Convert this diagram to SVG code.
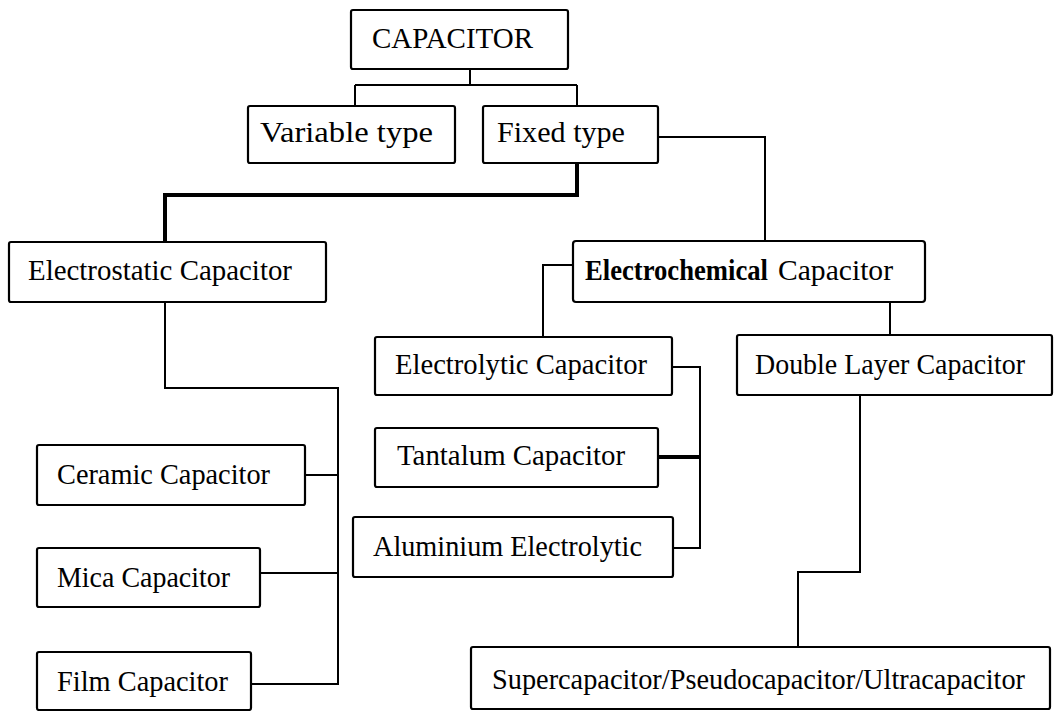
<svg xmlns="http://www.w3.org/2000/svg" width="1055" height="711" viewBox="0 0 1055 711">
<style>
.box{fill:#fff;stroke:#000;stroke-width:2.2}
.t{font-family:"Liberation Serif","Times New Roman",serif;font-size:29px;fill:#000}
.b{font-weight:bold}
.c{fill:none;stroke:#000;stroke-width:2}
.k{fill:none;stroke:#000;stroke-width:4}
</style>
<rect width="1055" height="711" fill="#fff"/>
<g id="connectors">
<path class="c" d="M470,69V85M355,85H577M355,85V106M577,85V106"/>
<path class="k" d="M577,163V195H165V242"/>
<path class="c" d="M658,137H765V241"/>
<path class="c" d="M573,265H543V337"/>
<path class="c" d="M890,302V335"/>
<path class="c" d="M672,367H700V548H673"/>
<path class="k" d="M658,457H700"/>
<path class="c" d="M860,395V572H798V647"/>
<path class="c" d="M165,302V388H338V684H251M305,475H338M260,573H338"/>
</g>
<g id="capacitor"><rect class="box" x="351" y="10" width="217" height="59" rx="2"/><text class="t" x="372" y="48" textLength="161" lengthAdjust="spacingAndGlyphs">CAPACITOR</text></g>
<g id="variable"><rect class="box" x="248" y="106" width="207" height="57" rx="2"/><text class="t" x="260" y="142" textLength="173" lengthAdjust="spacingAndGlyphs">Variable type</text></g>
<g id="fixed"><rect class="box" x="483" y="106" width="175" height="57" rx="2"/><text class="t" x="497" y="142" textLength="128" lengthAdjust="spacingAndGlyphs">Fixed type</text></g>
<g id="electrostatic"><rect class="box" x="9" y="242" width="317" height="60" rx="2"/><text class="t" x="28" y="280" textLength="264" lengthAdjust="spacingAndGlyphs">Electrostatic Capacitor</text></g>
<g id="electrochemical"><rect class="box" x="573" y="241" width="352" height="61" rx="3"/><text class="t b" x="585" y="280" textLength="183" lengthAdjust="spacingAndGlyphs">Electrochemical</text><text class="t" x="778" y="280" textLength="115" lengthAdjust="spacingAndGlyphs">Capacitor</text></g>
<g id="electrolytic"><rect class="box" x="375" y="337" width="297" height="58" rx="2"/><text class="t" x="395" y="374" textLength="252" lengthAdjust="spacingAndGlyphs">Electrolytic Capacitor</text></g>
<g id="doublelayer"><rect class="box" x="737" y="335" width="315" height="60" rx="2"/><text class="t" x="755" y="374" textLength="270" lengthAdjust="spacingAndGlyphs">Double Layer Capacitor</text></g>
<g id="tantalum"><rect class="box" x="375" y="428" width="283" height="59" rx="2"/><text class="t" x="397" y="465" textLength="228" lengthAdjust="spacingAndGlyphs">Tantalum Capacitor</text></g>
<g id="aluminium"><rect class="box" x="353" y="517" width="320" height="60" rx="2"/><text class="t" x="373" y="556" textLength="269" lengthAdjust="spacingAndGlyphs">Aluminium Electrolytic</text></g>
<g id="ceramic"><rect class="box" x="37" y="445" width="268" height="60" rx="2"/><text class="t" x="57" y="484" textLength="213" lengthAdjust="spacingAndGlyphs">Ceramic Capacitor</text></g>
<g id="mica"><rect class="box" x="37" y="548" width="223" height="59" rx="2"/><text class="t" x="57" y="587" textLength="173" lengthAdjust="spacingAndGlyphs">Mica Capacitor</text></g>
<g id="film"><rect class="box" x="37" y="652" width="214" height="58" rx="2"/><text class="t" x="57" y="691" textLength="171" lengthAdjust="spacingAndGlyphs">Film Capacitor</text></g>
<g id="super"><rect class="box" x="471" y="647" width="579" height="62" rx="2"/><text class="t" x="492" y="689" textLength="533" lengthAdjust="spacingAndGlyphs">Supercapacitor/Pseudocapacitor/Ultracapacitor</text></g>
</svg>
